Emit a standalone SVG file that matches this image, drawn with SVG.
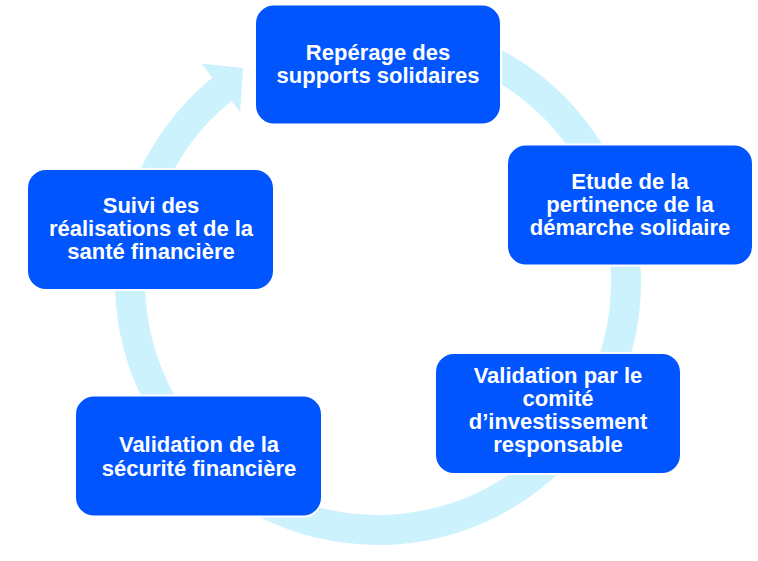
<svg xmlns="http://www.w3.org/2000/svg" width="758" height="561" viewBox="0 0 758 561">
  <style>
    .box { fill: #0055FF; stroke: #FFFFFF; stroke-width: 2; }
    .lbl { font-family: "Liberation Sans", Arial, sans-serif; font-weight: bold; font-size: 22px; fill: #FFFFFF; text-anchor: middle; }
    .ring { fill: #CCF2FD; stroke: none; }
  </style>
  <rect width="758" height="561" fill="#FFFFFF"/>
  <g id="connectors">
    <path class="ring" d="M 332.3 23.0 A 263 263 0 1 1 212.5 77.6 L 201.2 63.6 L 243 68 L 240.2 111.8 L 231.4 100.9 A 233 233 0 1 0 337.5 52.5 Z"/>
  </g>
  <g id="node-reperage">
    <rect class="box" x="255" y="4.5" width="246" height="120" rx="19"/>
    <text class="lbl" x="378" y="60">Repérage des</text>
    <text class="lbl" x="378" y="83">supports solidaires</text>
  </g>
  <g id="node-etude">
    <rect class="box" x="507" y="144.5" width="246" height="121" rx="19"/>
    <text class="lbl" x="630" y="189">Etude de la</text>
    <text class="lbl" x="630" y="212">pertinence de la</text>
    <text class="lbl" x="630" y="235">démarche solidaire</text>
  </g>
  <g id="node-comite">
    <rect class="box" x="435" y="353" width="246" height="121" rx="19"/>
    <text class="lbl" x="558" y="383">Validation par le</text>
    <text class="lbl" x="558" y="406">comité</text>
    <text class="lbl" x="558" y="429">d’investissement</text>
    <text class="lbl" x="558" y="452">responsable</text>
  </g>
  <g id="node-securite">
    <rect class="box" x="75" y="395.5" width="247" height="121" rx="19"/>
    <text class="lbl" x="199" y="452">Validation de la</text>
    <text class="lbl" x="199" y="476">sécurité financière</text>
  </g>
  <g id="node-suivi">
    <rect class="box" x="27" y="169" width="247" height="121" rx="19"/>
    <text class="lbl" x="151" y="213">Suivi des</text>
    <text class="lbl" x="151" y="236">réalisations et de la</text>
    <text class="lbl" x="151" y="259">santé financière</text>
  </g>
</svg>
